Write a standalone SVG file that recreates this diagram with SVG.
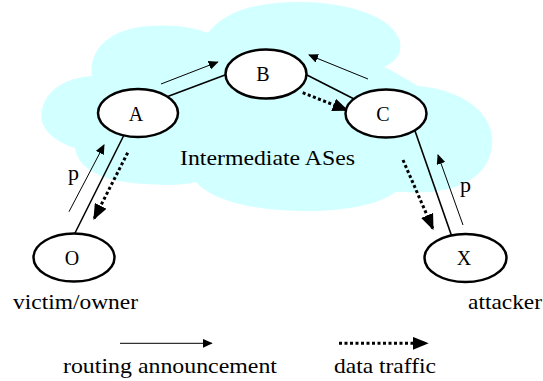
<svg xmlns="http://www.w3.org/2000/svg" width="543" height="381" viewBox="0 0 543 381">
<defs>
<style>
text{font-family:"Liberation Serif","Times New Roman",serif;fill:#000}
.lbl{font-size:22px}
.nl{font-size:20px;text-anchor:middle}
.node{fill:#fff;stroke:#000;stroke-width:2.5}
.link{stroke:#000;stroke-width:1.6;fill:none}
.ann{stroke:#000;stroke-width:1;fill:none;marker-end:url(#ah)}
.data{stroke:#000;stroke-width:3;stroke-dasharray:3 2.5;fill:none;marker-end:url(#dh)}
</style>
<marker id="ah" markerUnits="userSpaceOnUse" markerWidth="10" markerHeight="9" refX="9" refY="4.5" orient="auto">
<path d="M0,0 L10,4.5 L0,9 Z" fill="#000"/>
</marker>
<marker id="dh" markerUnits="userSpaceOnUse" markerWidth="16" markerHeight="13" refX="14" refY="6.5" orient="auto">
<path d="M0,0 L16,6.5 L0,13 Z" fill="#000"/>
</marker>
</defs>
<rect width="543" height="381" fill="#fff"/>
<path id="cloud" fill="#d2ffff" d="M75,148 C50,140 38,125 42,110 C46,90 65,78 92,76 C88,50 110,28 150,26 C175,24 195,28 208,33 C225,10 260,2 300,2 C350,2 395,18 400,42 C402,55 395,62 384,67 C395,72 408,80 418,86 C465,90 495,115 492,145 C490,170 470,188 430,192 C415,193 402,192 395,192 C380,205 340,212 300,211 C250,210 212,200 196,182 C180,186 160,185 145,184 C105,182 78,170 75,148 Z"/>
<text class="lbl" x="180" y="165" textLength="175" lengthAdjust="spacingAndGlyphs">Intermediate ASes</text>
<g id="connectors">
<line class="link" x1="165" y1="97.5" x2="229" y2="73.5"/>
<line class="link" x1="303" y1="73" x2="360" y2="102"/>
<line class="link" x1="124" y1="135" x2="74" y2="235"/>
<line class="link" x1="414" y1="128" x2="452" y2="237"/>
<line class="ann" x1="161" y1="84" x2="217.7" y2="62"/>
<line class="ann" x1="368" y1="79" x2="309" y2="55"/>
<line class="ann" x1="69" y1="211.7" x2="104" y2="145"/>
<line class="ann" x1="463" y1="225" x2="438" y2="155"/>
<line class="data" x1="302.7" y1="92.7" x2="346.7" y2="110"/>
<line class="data" x1="127.7" y1="152.7" x2="94.3" y2="218.3"/>
<line class="data" x1="403" y1="160" x2="432.7" y2="228.3"/>
</g>
<g id="A"><ellipse class="node" cx="138" cy="113" rx="40" ry="24"/><text class="nl" x="136" y="121">A</text></g>
<g id="B"><ellipse class="node" cx="266" cy="74" rx="40.5" ry="24.5"/><text class="nl" x="263" y="81">B</text></g>
<g id="C"><ellipse class="node" cx="386" cy="113.5" rx="40.5" ry="24"/><text class="nl" x="383" y="121">C</text></g>
<g id="O"><ellipse class="node" cx="74" cy="257.5" rx="40.5" ry="24"/><text class="nl" x="72" y="265">O</text></g>
<g id="X"><ellipse class="node" cx="465.5" cy="258" rx="41" ry="24"/><text class="nl" x="464" y="265">X</text></g>
<text class="lbl" x="68" y="180">p</text>
<text class="lbl" x="460" y="192">p</text>
<text class="lbl" x="13" y="308.5" textLength="125" lengthAdjust="spacingAndGlyphs">victim/owner</text>
<text class="lbl" x="468" y="308.5" textLength="74" lengthAdjust="spacingAndGlyphs">attacker</text>
<g id="legend">
<line class="ann" x1="120" y1="343.3" x2="211.7" y2="343.3"/>
<line class="data" x1="339" y1="343.3" x2="426.7" y2="343.3"/>
<text class="lbl" x="63" y="373" textLength="214" lengthAdjust="spacingAndGlyphs">routing announcement</text>
<text class="lbl" x="334" y="373" textLength="102" lengthAdjust="spacingAndGlyphs">data traffic</text>
</g>
</svg>
